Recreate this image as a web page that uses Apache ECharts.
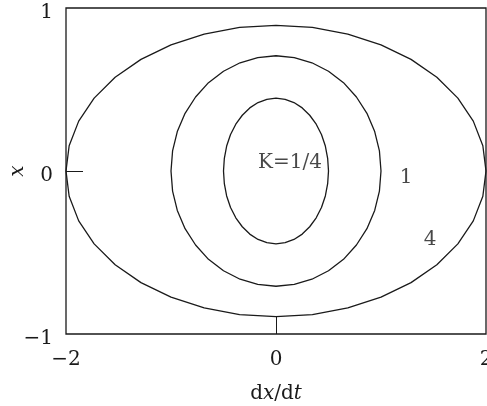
<!DOCTYPE html>
<html>
<head>
<meta charset="utf-8">
<script src="https://cdn.jsdelivr.net/npm/echarts@6/dist/echarts.min.js"></script>
<style>
  html, body { margin: 0; padding: 0; background: #fff; }
  #chart { width: 487px; height: 406px; }
</style>
</head>
<body>
<div id="chart"></div>
<script>
// Phase-plane trajectories: points are [dx/dt, x]
const curveK4 = [
  [2, 0], [1.970, 0.155], [1.879, 0.306], [1.732, 0.447], [1.532, 0.575], [1.286, 0.685], [1, 0.774], [0.684, 0.840], [0.347, 0.881],
  [0, 0.894], [-0.347, 0.881], [-0.684, 0.840], [-1, 0.774], [-1.286, 0.685], [-1.532, 0.575], [-1.732, 0.447], [-1.879, 0.306], [-1.970, 0.155],
  [-2, 0], [-1.970, -0.155], [-1.879, -0.306], [-1.732, -0.447], [-1.532, -0.575], [-1.286, -0.685], [-1, -0.774], [-0.684, -0.840], [-0.347, -0.881],
  [0, -0.894], [0.347, -0.881], [0.684, -0.840], [1, -0.774], [1.286, -0.685], [1.532, -0.575], [1.732, -0.447], [1.879, -0.306], [1.970, -0.155],
  [2, 0]
];
const curveK1 = [
  [1, 0], [0.985, 0.123], [0.940, 0.242], [0.866, 0.354], [0.766, 0.454], [0.643, 0.542], [0.5, 0.612], [0.342, 0.664], [0.174, 0.696],
  [0, 0.707], [-0.174, 0.696], [-0.342, 0.664], [-0.5, 0.612], [-0.643, 0.542], [-0.766, 0.454], [-0.866, 0.354], [-0.940, 0.242], [-0.985, 0.123],
  [-1, 0], [-0.985, -0.123], [-0.940, -0.242], [-0.866, -0.354], [-0.766, -0.454], [-0.643, -0.542], [-0.5, -0.612], [-0.342, -0.664], [-0.174, -0.696],
  [0, -0.707], [0.174, -0.696], [0.342, -0.664], [0.5, -0.612], [0.643, -0.542], [0.766, -0.454], [0.866, -0.354], [0.940, -0.242], [0.985, -0.123],
  [1, 0]
];
const curveKq = [
  [0.5, 0], [0.492, 0.078], [0.470, 0.153], [0.433, 0.224], [0.383, 0.287], [0.321, 0.342], [0.25, 0.387], [0.171, 0.420], [0.087, 0.440],
  [0, 0.447], [-0.087, 0.440], [-0.171, 0.420], [-0.25, 0.387], [-0.321, 0.342], [-0.383, 0.287], [-0.433, 0.224], [-0.470, 0.153], [-0.492, 0.078],
  [-0.5, 0], [-0.492, -0.078], [-0.470, -0.153], [-0.433, -0.224], [-0.383, -0.287], [-0.321, -0.342], [-0.25, -0.387], [-0.171, -0.420], [-0.087, -0.440],
  [0, -0.447], [0.087, -0.440], [0.171, -0.420], [0.25, -0.387], [0.321, -0.342], [0.383, -0.287], [0.433, -0.224], [0.470, -0.153], [0.492, -0.078],
  [0.5, 0]
];
// Curve labels: [dx/dt, x, text]
const curveLabels = [
  [0.133, 0.049, 'K=1/4'],
  [1.238, -0.043, '1'],
  [1.467, -0.423, '4']
];
const xTicks = [-2, 0, 2];
const yTicks = [-1, 0, 1];

const FONT = 'DejaVu Serif';
const INK = '#1a1a1a';
const SIZE = 20;

const chart = echarts.init(document.getElementById('chart'), null, { renderer: 'canvas' });

function curve(data) {
  return {
    type: 'line',
    data: data,
    showSymbol: false,
    symbol: 'none',
    smooth: false,
    silent: true,
    lineStyle: { color: INK, width: 1.3 },
    z: 3
  };
}

const minus = v => (v < 0 ? '\u2212' + Math.abs(v) : String(v));

chart.setOption({
  animation: false,
  backgroundColor: '#fff',
  grid: {
    left: 66, top: 8, width: 420, height: 326,
    outerBoundsMode: 'none', containLabel: false,
    show: true, borderColor: INK, borderWidth: 1.3, backgroundColor: 'transparent'
  },
  xAxis: {
    type: 'value', min: -2, max: 2, interval: 2,
    name: '{r|d}{i|x}{r|/d}{i|t}', nameLocation: 'middle', nameGap: 50, nameMoveOverlap: false,
    nameTextStyle: {
      rich: {
        r: { fontFamily: FONT, fontSize: SIZE, color: INK },
        i: { fontFamily: FONT, fontSize: SIZE, fontStyle: 'italic', color: INK }
      }
    },
    axisLine: { show: false, onZero: false },
    axisTick: { show: true, inside: true, length: 17, lineStyle: { color: INK, width: 1 },
      customValues: [0] },
    axisLabel: { fontFamily: FONT, fontSize: SIZE, color: INK, margin: 16,
      customValues: xTicks, formatter: minus },
    splitLine: { show: false }
  },
  yAxis: {
    type: 'value', min: -1, max: 1, interval: 1,
    name: 'x', nameLocation: 'middle', nameGap: 38, nameRotate: 90, nameMoveOverlap: false,
    nameTextStyle: { fontFamily: FONT, fontSize: SIZE, fontStyle: 'italic', color: INK },
    axisLine: { show: false, onZero: false },
    axisTick: { show: true, inside: true, length: 17, lineStyle: { color: INK, width: 1 },
      customValues: [0] },
    axisLabel: { color: INK, margin: 13,
      customValues: yTicks,
      formatter: v => '{n|' + minus(v) + '}',
      rich: { n: { fontFamily: FONT, fontSize: SIZE, color: INK, padding: [10, 0, 0, 0] } } },
    splitLine: { show: false }
  },
  series: [
    curve(curveK4),
    curve(curveK1),
    curve(curveKq),
    {
      type: 'scatter',
      data: curveLabels.map(d => ({ value: [d[0], d[1]], name: d[2] })),
      symbolSize: 1,
      itemStyle: { color: 'rgba(0,0,0,0)' },
      silent: true,
      label: {
        show: true, position: 'inside', formatter: p => p.name,
        fontFamily: FONT, fontSize: SIZE, color: INK
      },
      z: 4
    }
  ]
});
</script>
</body>
</html>
